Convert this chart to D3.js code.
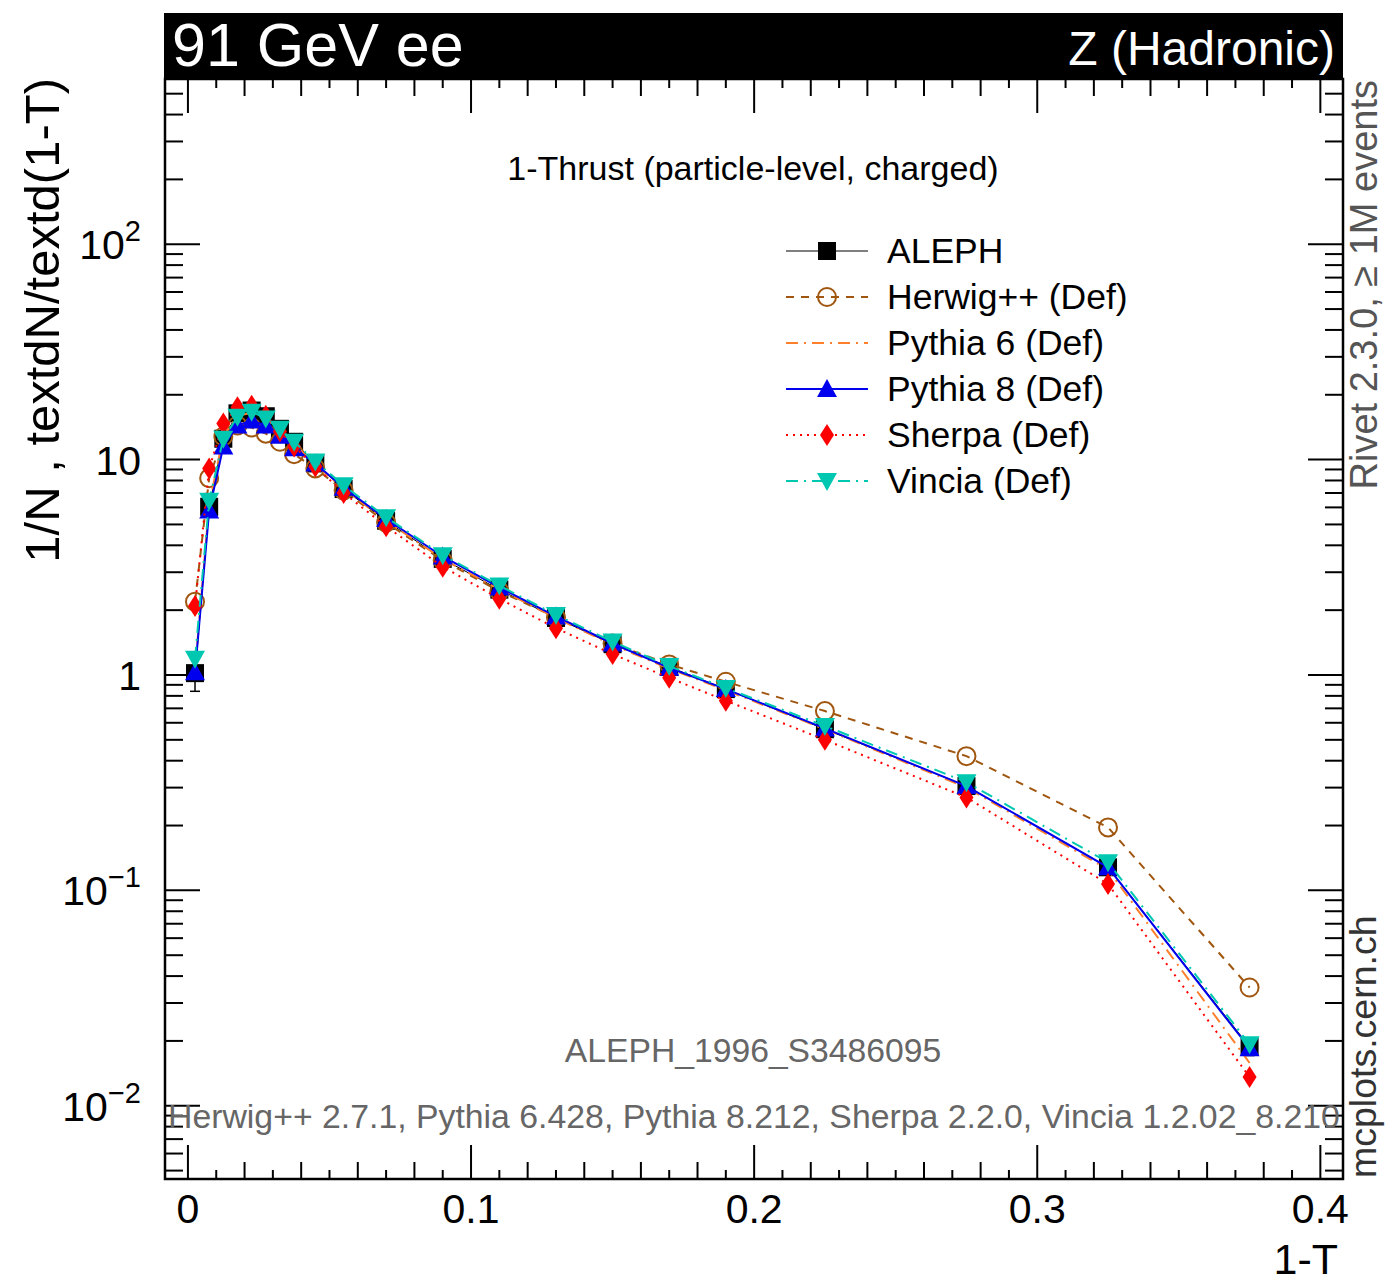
<html>
<script src='https://d3js.org/d3.v7.min.js'></script>
<style>
body {margin: 0; background: white;}
text {font-family: "Liberation Sans", Arial, Helvetica, sans-serif;}
</style>
<body>
<svg id="chart" width=1385 height=1283></svg>
<script>
// bin centres of 1-T
var xs = [0.0025, 0.0075, 0.0125, 0.0175, 0.0225, 0.0275, 0.0325, 0.0375, 0.045, 0.055, 0.07,
	0.09, 0.11, 0.13, 0.15, 0.17, 0.19, 0.225, 0.275, 0.325, 0.375];

var aleph = [1.02, 6.04, 12.5, 16.4, 16.9, 15.9, 13.9, 12.1, 9.6, 7.3, 5.2,
	3.46, 2.49, 1.84, 1.39, 1.09, 0.86, 0.56, 0.305, 0.128, 0.0188];
var alephErr = [0.18, 0.2, 0.3, 0.35, 0.35, 0.3, 0.25, 0.2, 0.15, 0.12, 0.08,
	0.05, 0.04, 0.03, 0.025, 0.02, 0.018, 0.012, 0.008, 0.005, 0.0017];
var herwig = [2.19, 8.2, 12.8, 14.4, 14.1, 13.2, 12.1, 10.6, 9.1, 7.2, 5.1,
	3.4, 2.45, 1.85, 1.4, 1.12, 0.93, 0.68, 0.42, 0.196, 0.0354];
var pythia6 = [1.05, 6.2, 12.8, 16.0, 16.5, 15.5, 13.6, 11.8, 9.5, 7.3, 5.2,
	3.45, 2.5, 1.84, 1.38, 1.07, 0.85, 0.56, 0.30, 0.125, 0.0158];
var pythia8 = [1.03, 5.8, 11.5, 14.4, 15.2, 14.4, 12.9, 11.3, 9.6, 7.4, 5.3,
	3.55, 2.55, 1.87, 1.40, 1.08, 0.86, 0.565, 0.305, 0.128, 0.0185];
var sherpa = [2.09, 9.1, 14.7, 17.5, 17.8, 16.0, 13.5, 11.5, 9.3, 7.0, 4.9,
	3.18, 2.26, 1.65, 1.25, 0.97, 0.76, 0.50, 0.27, 0.107, 0.0136];
var vincia = [1.19, 6.45, 12.5, 15.8, 16.7, 15.5, 13.9, 12.1, 9.8, 7.6, 5.4,
	3.6, 2.6, 1.9, 1.43, 1.1, 0.87, 0.58, 0.318, 0.135, 0.0193];

var seriesNames = ["ALEPH", "Herwig++ (Def)", "Pythia 6 (Def)", "Pythia 8 (Def)", "Sherpa (Def)", "Vincia (Def)"];

var xTickLabels = ["0", "0.1", "0.2", "0.3", "0.4"];
var yTickDecades = [-2, -1, 0, 1, 2];

function draw() {
	var svg = d3.select("#chart");
	var left = 165, right = 1343, pTop = 79, bottom = 1179;

	var x = d3.scaleLinear().domain([-0.0081, 0.408]).range([left, right]);
	var y = d3.scaleLog().domain([0.00457, 585]).range([bottom, pTop]);

	// header bar
	svg.append("rect").attr("x", 164).attr("y", 13).attr("width", right - 164).attr("height", pTop - 13).attr("fill", "black");
	svg.append("text").attr("x", 172).attr("y", 66).text("91 GeV ee").attr("fill", "white").style("font-size", "61px");
	svg.append("text").attr("x", 1335).attr("y", 65).text("Z (Hadronic)").attr("fill", "white").attr("text-anchor", "end").style("font-size", "48px");

	// ticks
	var g = svg.append("g").attr("stroke", "black").attr("stroke-width", 2);
	for (var i = 0; i <= 40; i++) {
		var v = i / 100;
		var len = (i % 10 == 0) ? 34 : (i % 2 == 0 ? 17 : 9);
		g.append("line").attr("x1", x(v)).attr("x2", x(v)).attr("y1", bottom).attr("y2", bottom - len);
		g.append("line").attr("x1", x(v)).attr("x2", x(v)).attr("y1", pTop).attr("y2", pTop + len);
	}
	for (var e = -3; e <= 2; e++) {
		for (var m = 1; m <= 9; m++) {
			var val = m * Math.pow(10, e);
			if (val < y.domain()[0] || val > y.domain()[1]) continue;
			var tl = (m == 1) ? 35 : 18;
			g.append("line").attr("x1", left).attr("x2", left + tl).attr("y1", y(val)).attr("y2", y(val));
			g.append("line").attr("x1", right).attr("x2", right - tl).attr("y1", y(val)).attr("y2", y(val));
		}
	}
	svg.append("rect").attr("x", left).attr("y", pTop).attr("width", right - left).attr("height", bottom - pTop)
		.attr("fill", "none").attr("stroke", "black").attr("stroke-width", 2.5);

	// tick labels
	xTickLabels.forEach(function(t) {
		svg.append("text").attr("x", x(+t)).attr("y", 1223).attr("text-anchor", "middle").text(t).style("font-size", "41px");
	});
	yTickDecades.forEach(function(d) {
		var t = svg.append("text").attr("x", 141).attr("y", y(Math.pow(10, d)) + 15).attr("text-anchor", "end").style("font-size", "41px");
		if (d == 0) t.text("1");
		else if (d == 1) t.text("10");
		else {
			t.append("tspan").text("10");
			t.append("tspan").attr("dy", -18).style("font-size", "29px").text(d == 2 ? "2" : "\u2212" + (-d));
		}
	});

	// axis titles
	svg.append("text").attr("transform", "translate(59,78) rotate(-90)").attr("text-anchor", "end")
		.text("1/N , textdN/textd(1-T)").style("font-size", "49px");
	svg.append("text").attr("x", 1338).attr("y", 1274).attr("text-anchor", "end").text("1-T").style("font-size", "43px");

	// side texts
	svg.append("text").attr("transform", "translate(1377,80) rotate(-90)").attr("text-anchor", "end")
		.text("Rivet 2.3.0,  \u2265 1M events").attr("fill", "#555").style("font-size", "38px");
	svg.append("text").attr("transform", "translate(1376,1178) rotate(-90)").attr("text-anchor", "start")
		.text("mcplots.cern.ch").attr("fill", "#333").style("font-size", "37.5px");

	// plot texts
	svg.append("text").attr("x", 753).attr("y", 180).attr("text-anchor", "middle")
		.text("1-Thrust (particle-level, charged)").style("font-size", "34px");
	svg.append("text").attr("x", 753).attr("y", 1062).attr("text-anchor", "middle").attr("fill", "#666")
		.text("ALEPH_1996_S3486095").style("font-size", "33.7px");
	svg.append("text").attr("x", 168).attr("y", 1128).attr("fill", "#666")
		.text("Herwig++ 2.7.1, Pythia 6.428, Pythia 8.212, Sherpa 2.2.0, Vincia 1.2.02_8.210").style("font-size", "33.8px");

	// marker shapes
	function marker(sel, type, color) {
		if (type == "square") sel.append("rect").attr("x", -9).attr("y", -9).attr("width", 18).attr("height", 18).attr("fill", color);
		else if (type == "circle") sel.append("circle").attr("r", 9).attr("fill", "none").attr("stroke", color).attr("stroke-width", 2);
		else if (type == "up") sel.append("path").attr("d", "M0,-10L10,8L-10,8Z").attr("fill", color);
		else if (type == "down") sel.append("path").attr("d", "M0,10L10,-8L-10,-8Z").attr("fill", color);
		else if (type == "diamond") sel.append("path").attr("d", "M0,-11L7,0L0,11L-7,0Z").attr("fill", color);
	}

	var series = [
		{name: seriesNames[0], values: aleph, color: "black", dash: null, width: 1, marker: "square"},
		{name: seriesNames[1], values: herwig, color: "#a0560f", dash: "8,7", width: 2, marker: "circle"},
		{name: seriesNames[2], values: pythia6, color: "#ff7f2a", dash: "12,6,2,6", width: 2, marker: null},
		{name: seriesNames[3], values: pythia8, color: "#0000ee", dash: null, width: 2, marker: "up"},
		{name: seriesNames[4], values: sherpa, color: "#ff0000", dash: "2,5", width: 2, marker: "diamond"},
		{name: seriesNames[5], values: vincia, color: "#00c8b0", dash: "12,6,2,6", width: 2, marker: "down"}
	];

	var line = d3.line().x(function(d, i) { return x(xs[i]); }).y(function(d) { return y(d); });

	var plot = svg.append("g");
	series.forEach(function(s, si) {
		plot.append("path").attr("d", line(s.values)).attr("fill", "none").attr("stroke", s.color)
			.attr("stroke-width", s.width).attr("stroke-dasharray", s.dash);
		if (si == 0) {
			s.values.forEach(function(v, i) {
				var lo = y(v - alephErr[i]), hi = y(v + alephErr[i]), cx = x(xs[i]);
				plot.append("line").attr("x1", cx).attr("x2", cx).attr("y1", lo).attr("y2", hi).attr("stroke", "black").attr("stroke-width", 1.5);
				plot.append("line").attr("x1", cx - 5).attr("x2", cx + 5).attr("y1", lo).attr("y2", lo).attr("stroke", "black").attr("stroke-width", 1.5);
				plot.append("line").attr("x1", cx - 5).attr("x2", cx + 5).attr("y1", hi).attr("y2", hi).attr("stroke", "black").attr("stroke-width", 1.5);
			});
		}
		if (s.marker) {
			s.values.forEach(function(v, i) {
				var mg = plot.append("g").attr("transform", "translate(" + x(xs[i]) + "," + y(v) + ")");
				marker(mg, s.marker, s.color);
			});
		}
	});

	// legend
	var legY = [251, 297, 343, 389, 435, 481];
	series.forEach(function(s, i) {
		var lg = svg.append("g").attr("transform", "translate(0," + legY[i] + ")");
		lg.append("line").attr("x1", 786).attr("x2", 868).attr("y1", 0).attr("y2", 0).attr("stroke", s.color)
			.attr("stroke-width", s.width).attr("stroke-dasharray", s.dash);
		if (s.marker) {
			var mg = lg.append("g").attr("transform", "translate(827,0)");
			marker(mg, s.marker, s.color);
		}
		lg.append("text").attr("x", 887).attr("y", 12).text(s.name).style("font-size", "35.5px");
	});
}
draw();
</script>
</body>
</html>
